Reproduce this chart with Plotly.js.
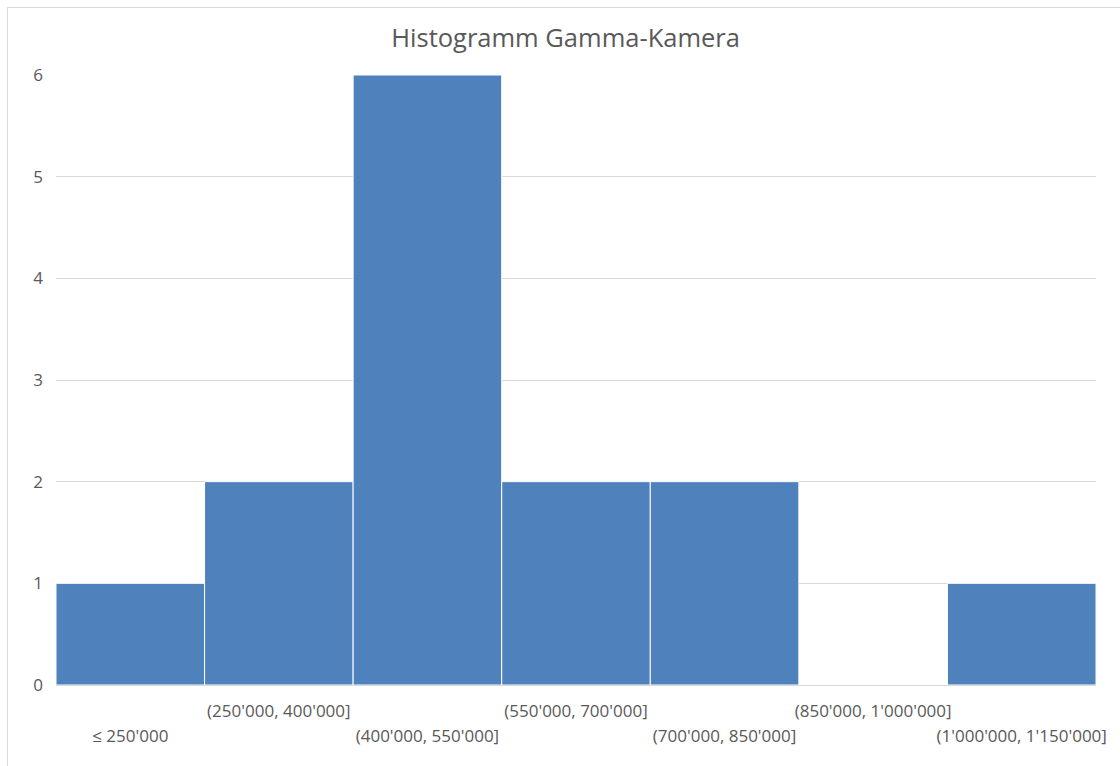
<!DOCTYPE html>
<html>
<head>
<meta charset="utf-8">
<script src="https://cdn.plot.ly/plotly-3.0.1.min.js"></script>
<style>
  html, body { margin: 0; padding: 0; background: #ffffff; }
  #wrap { position: relative; width: 1120px; height: 766px; overflow: hidden; }
  #chart { position: absolute; left: 0; top: 0; width: 1120px; height: 766px; }
  #frame { position: absolute; left: 7px; top: 7px; width: 1200px; height: 900px;
           border-left: 1px solid #d9d9d9; border-top: 1px solid #d9d9d9; pointer-events: none; }
</style>
</head>
<body>
<div id="wrap">
  <div id="chart"></div>
  <div id="frame"></div>
</div>
<script>
// Data
const categories = ["≤ 250'000", "(250'000, 400'000]", "(400'000, 550'000]", "(550'000, 700'000]",
                    "(700'000, 850'000]", "(850'000, 1'000'000]", "(1'000'000, 1'150'000]"];
const counts = [1, 2, 6, 2, 2, 0, 1];
const chartTitle = "Histogramm Gamma-Kamera";

const upperLabels = categories.filter((c, i) => i % 2 === 1);
const lowerLabels = categories.filter((c, i) => i % 2 === 0);

const textColor = '#595959';
const fontFam = '"Open Sans", "Noto Sans", sans-serif';

const traces = [
  {
    type: 'bar', x: categories, y: counts, xaxis: 'x', yaxis: 'y',
    marker: { color: '#4f81bd', line: { color: '#ffffff', width: 1 } },
    hoverinfo: 'x+y', showlegend: false
  },
  {
    type: 'bar', x: categories, y: counts, xaxis: 'x2', yaxis: 'y',
    marker: { color: 'rgba(0,0,0,0)' }, hoverinfo: 'skip', showlegend: false
  }
];

const layout = {
  width: 1120, height: 766,
  margin: { l: 56, r: 24, t: 75, b: 81 },
  paper_bgcolor: 'rgba(0,0,0,0)', plot_bgcolor: '#ffffff',
  font: { family: fontFam, color: textColor, size: 17 },
  title: { text: chartTitle, x: 0.505, xanchor: 'center', y: 0.95, yanchor: 'middle',
           font: { family: fontFam, size: 25.5, color: textColor } },
  bargap: 0, barmode: 'overlay',
  xaxis: {
    type: 'category', categoryorder: 'array', categoryarray: categories,
    range: [-0.5, 6.5],
    tickvals: upperLabels, ticktext: upperLabels,
    showgrid: false, zeroline: false, showline: true, linecolor: '#d9d9d9', linewidth: 1,
    ticks: '', ticklabelstandoff: 11, tickfont: { size: 17, color: textColor }
  },
  xaxis2: {
    type: 'category', categoryorder: 'array', categoryarray: categories,
    overlaying: 'x', anchor: 'y', side: 'bottom',
    range: [-0.5, 6.5],
    tickvals: lowerLabels, ticktext: lowerLabels,
    showgrid: false, zeroline: false, showline: false,
    ticks: '', ticklabelstandoff: 39, tickfont: { size: 17, color: textColor }
  },
  yaxis: {
    range: [0, 6], dtick: 1, tick0: 0,
    showgrid: true, gridcolor: '#d9d9d9', gridwidth: 1,
    zeroline: false, showline: false, ticks: '',
    ticklabelstandoff: 12, tickfont: { size: 17, color: textColor }
  }
};

Plotly.newPlot('chart', traces, layout, { displayModeBar: false, staticPlot: true });
</script>
</body>
</html>
